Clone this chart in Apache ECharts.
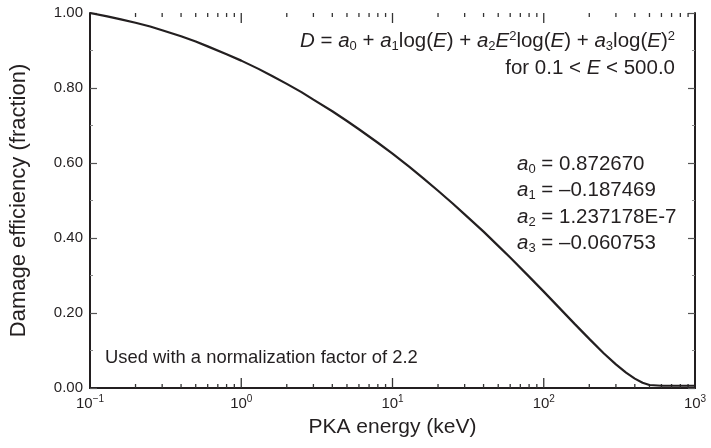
<!DOCTYPE html>
<html><head><meta charset="utf-8">
<script src="https://cdn.jsdelivr.net/npm/echarts@6/dist/echarts.min.js"></script>
<style>html,body{margin:0;padding:0;background:#fff}#c{width:711px;height:448px}</style>
</head><body><div id="c"></div>
<script>
// PKA energy (keV) and damage efficiency
const energy = [0.1, 0.13, 0.16, 0.2, 0.25, 0.3, 0.4, 0.5, 0.6, 0.8, 1, 1.3, 1.6, 2, 2.5, 3, 4, 5, 6, 8, 10, 13, 16, 20, 25, 30, 40, 50, 60, 80, 100, 130, 160, 200, 250, 300, 350, 400, 450, 500, 600, 800, 1000];
const efficiency = [1.000, 0.991, 0.983, 0.974, 0.964, 0.954, 0.938, 0.924, 0.911, 0.890, 0.873, 0.851, 0.832, 0.811, 0.789, 0.769, 0.738, 0.712, 0.690, 0.654, 0.625, 0.589, 0.559, 0.526, 0.492, 0.463, 0.417, 0.379, 0.348, 0.297, 0.257, 0.209, 0.171, 0.131, 0.092, 0.063, 0.041, 0.025, 0.014, 0.008, 0.006, 0.006, 0.006];
const xMajorTicks = [1, 10, 100];
const xMinorTicks = [0.2,0.3,0.4,0.5,0.6,0.7,0.8,0.9, 2,3,4,5,6,7,8,9, 20,30,40,50,60,70,80,90, 200,300,400,500,600,700,800,900];
const yTickLabels = ['0.00','0.20','0.40','0.60','0.80','1.00'];
const coefficients = ['0.872670', '\u20130.187469', '1.237178E-7', '\u20130.060753'];

const FONT = '"Liberation Sans", Arial, Helvetica, sans-serif';
const ink = '#231f20';
const chart = echarts.init(document.getElementById('c'), null, {renderer: 'canvas'});

function xLabel(v) {
  const e = Math.round(Math.log10(v));
  return '{b|10}{s|' + (e < 0 ? '\u22121' : String(e)) + '}';
}

const xAxisBase = {
  type: 'log', logBase: 10, min: 0.1, max: 1000,
  axisLine: {show: true, lineStyle: {color: ink, width: 2}},
  axisTick: {show: false},
  splitLine: {show: false}, minorTick: {show: false}
};
const yAxisBase = {
  type: 'value', min: 0, max: 1, interval: 0.2,
  axisLine: {show: true, lineStyle: {color: ink, width: 2}},
  axisTick: {show: true, inside: true, length: 7, lineStyle: {color: '#555', width: 1.2}},
  minorTick: {show: true, splitNumber: 2, length: 3, lineStyle: {color: '#888', width: 1}},
  splitLine: {show: false}
};

const txtMain = 20.5, txtSub = 13;
const richMath = {
  i: {fontFamily: FONT, fontSize: txtMain, fontStyle: 'italic', fill: ink},
  n: {fontFamily: FONT, fontSize: txtMain, fill: ink},
  sub: {fontFamily: FONT, fontSize: txtSub, fill: ink, padding: [10, 0, 0, 0]},
  sup: {fontFamily: FONT, fontSize: txtSub, fill: ink, padding: [0, 0, 9, 0]}
};

const tickStyle = {stroke: '#333', lineWidth: 1.3};
function tickSeries(values, len) {
  return {
    type: 'custom', xAxisIndex: 0, yAxisIndex: 0,
    data: values.map(v => [v]),
    renderItem: function (params, api) {
      const b = api.coord([api.value(0), 0]);
      const t = api.coord([api.value(0), 1]);
      return {type: 'group', children: [
        {type: 'line', shape: {x1: b[0], y1: b[1], x2: b[0], y2: b[1] - len}, style: tickStyle},
        {type: 'line', shape: {x1: t[0], y1: t[1], x2: t[0], y2: t[1] + len}, style: tickStyle}
      ]};
    },
    silent: true, z: 3
  };
}

const option = {
  animation: false,
  backgroundColor: '#fff',
  grid: {left: 88, right: 16, top: 13, bottom: 60, containLabel: false},
  xAxis: [
    Object.assign({}, xAxisBase, {
      position: 'bottom',
      name: 'PKA energy (keV)', nameLocation: 'middle', nameGap: 29,
      nameTextStyle: {fontFamily: FONT, fontSize: 21, color: ink},
      axisLabel: {
        show: true, margin: 6, formatter: xLabel,
        rich: {
          b: {fontFamily: FONT, fontSize: 15, color: ink},
          s: {fontFamily: FONT, fontSize: 10, color: ink, padding: [0, 0, 10, 0]}
        }
      }
    }),
    Object.assign({}, xAxisBase, {position: 'top', axisLabel: {show: false}})
  ],
  yAxis: [
    Object.assign({}, yAxisBase, {
      position: 'left',
      name: 'Damage efficiency (fraction)', nameLocation: 'middle', nameGap: 60, nameRotate: 90,
      nameTextStyle: {fontFamily: FONT, fontSize: 22, color: ink},
      axisLabel: {show: true, margin: 7, fontFamily: FONT, fontSize: 15, color: ink,
        formatter: function (v) { return yTickLabels[Math.round(v / 0.2)]; }}
    }),
    Object.assign({}, yAxisBase, {position: 'right', axisLabel: {show: false}})
  ],
  series: [
    {
      type: 'line', xAxisIndex: 0, yAxisIndex: 0,
      data: energy.map((e, i) => [e, efficiency[i]]),
      smooth: false, showSymbol: false, symbol: 'none',
      lineStyle: {color: ink, width: 2.2}
    },
    tickSeries(xMinorTicks, 4),
    tickSeries(xMajorTicks, 10)
  ],
  graphic: [
    {
      type: 'text', x: 675, y: 41,
      style: {
        text: '{i|D}{n| = }{i|a}{sub|0}{n| + }{i|a}{sub|1}{n|log(}{i|E}{n|) + }{i|a}{sub|2}{i|E}{sup|2}{n|log(}{i|E}{n|) + }{i|a}{sub|3}{n|log(}{i|E}{n|)}{sup|2}',
        align: 'right', verticalAlign: 'middle',
        font: txtMain + 'px ' + FONT, fill: ink, rich: richMath
      }
    },
    {
      type: 'text', x: 675, y: 68,
      style: {
        text: '{n|for 0.1 < }{i|E}{n| < 500.0}',
        align: 'right', verticalAlign: 'middle',
        font: txtMain + 'px ' + FONT, fill: ink, rich: richMath
      }
    },
    ...coefficients.map((c, k) => ({
      type: 'text', x: 517, y: 164 + k * 26.5,
      style: {
        text: '{i|a}{sub|' + k + '}{n| = ' + c + '}',
        align: 'left', verticalAlign: 'middle',
        font: txtMain + 'px ' + FONT, fill: ink, rich: richMath
      }
    })),
    {
      type: 'text', x: 105, y: 358,
      style: {text: 'Used with a normalization factor of 2.2', align: 'left', verticalAlign: 'middle',
        font: '18.4px ' + FONT, fill: ink}
    }
  ]
};
chart.setOption(option);
</script>
</body></html>
